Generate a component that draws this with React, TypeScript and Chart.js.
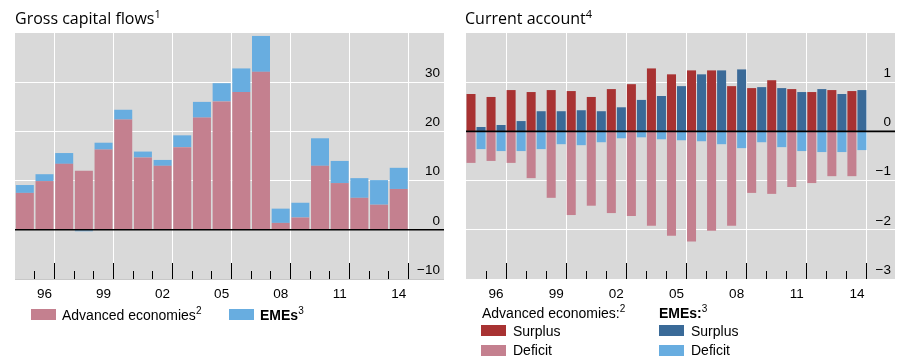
import React, { useEffect, useRef } from "react";
import { Chart, registerables } from "chart.js";

Chart.register(...registerables);

// ---------- data ----------
const YEARS = [1995, 1996, 1997, 1998, 1999, 2000, 2001, 2002, 2003, 2004, 2005, 2006, 2007, 2008, 2009, 2010, 2011, 2012, 2013, 2014];
const X_LABEL_YEARS = [1996, 1999, 2002, 2005, 2008, 2011, 2014];
const X_LABELS = ["96", "99", "02", "05", "08", "11", "14"];

// Gross capital flows (left panel)
const ADV_FLOWS = [7.5, 9.9, 13.4, 12.0, 16.3, 22.4, 14.7, 13.0, 16.8, 22.8, 26.1, 28.0, 32.1, 1.4, 2.5, 13.0, 9.5, 6.5, 5.1, 8.3];
const EME_FLOWS = [1.6, 1.4, 2.2, -0.3, 1.4, 2.0, 1.2, 1.2, 2.4, 3.2, 3.7, 4.8, 7.3, 2.9, 3.0, 5.6, 4.5, 4.0, 5.0, 4.3];
const FLOW_TICKS = [-10, 0, 10, 20, 30];

// Current account (right panel)
const ADV_SURPLUS = [0.76, 0.7, 0.84, 0.8, 0.84, 0.82, 0.7, 0.86, 0.96, 1.28, 1.16, 1.24, 1.24, 0.92, 0.88, 1.04, 0.86, 0.8, 0.84, 0.82];
const ADV_DEFICIT = [-0.64, -0.6, -0.64, -0.95, -1.35, -1.7, -1.51, -1.66, -1.72, -1.92, -2.12, -2.24, -2.02, -1.92, -1.25, -1.27, -1.13, -1.05, -0.91, -0.91];
const EME_SURPLUS = [0.09, 0.13, 0.21, 0.41, 0.41, 0.43, 0.41, 0.49, 0.64, 0.72, 0.92, 1.16, 1.24, 1.26, 0.9, 0.88, 0.8, 0.86, 0.76, 0.84];
const EME_DEFICIT = [-0.36, -0.4, -0.4, -0.36, -0.26, -0.28, -0.22, -0.14, -0.12, -0.16, -0.18, -0.2, -0.26, -0.34, -0.22, -0.32, -0.4, -0.42, -0.42, -0.38];
const CA_TICKS = [-3, -2, -1, 0, 1];

// ---------- styles ----------
const BG = "#d9d9d9";
const PINK = "#c4808f";
const LIGHT_BLUE = "#68ade0";
const DARK_RED = "#a83232";
const DARK_BLUE = "#3a6a98";
const TICK_FONT = { family: "'Liberation Sans', Arial, sans-serif", size: 13.5 };

const fmt = (v: number) => (v < 0 ? "\u2212" + Math.abs(v) : String(v));
const pts = (vals: number[]) => YEARS.map((x, i) => ({ x, y: vals[i] }));

const panelPlugin = {
  id: "panel",
  beforeDraw(chart: any) {
    const { ctx, chartArea: a } = chart;
    ctx.save();
    ctx.fillStyle = BG;
    ctx.fillRect(a.left, a.top, a.right - a.left, a.bottom - a.top);
    ctx.restore();
  },
  afterDatasetsDraw(chart: any) {
    const { ctx, chartArea: a, scales } = chart;
    ctx.save();
    // zero line
    const y0 = scales.y.getPixelForValue(0);
    ctx.strokeStyle = "#000";
    ctx.lineWidth = 1.6;
    ctx.beginPath();
    ctx.moveTo(a.left, y0);
    ctx.lineTo(a.right, y0);
    ctx.stroke();
    // year tick marks inside the bottom of the plot
    ctx.lineWidth = 1;
    ctx.beginPath();
    for (const yr of YEARS) {
      const px = Math.round(scales.x.getPixelForValue(yr + 0.5) - 0.5) + 0.5;
      const long = (yr - 1996) % 3 === 0;
      ctx.moveTo(px, a.bottom);
      ctx.lineTo(px, a.bottom - (long ? 16 : 8));
    }
    ctx.stroke();
    ctx.restore();
  },
};

function makeOptions(xMax: number, yMin: number, yMax: number, yTicks: number[], bottomGrid: string, barPct: number, pad: any) {
  return {
    responsive: false,
    animation: false as const,
    layout: { padding: pad },
    plugins: { legend: { display: false }, title: { display: false }, tooltip: { enabled: false } },
    datasets: { bar: { categoryPercentage: 1, barPercentage: barPct, borderWidth: 0 } },
    scales: {
      x: {
        type: "linear" as const,
        min: 1994.5,
        max: xMax,
        offset: false,
        afterBuildTicks: (scale: any) => {
          scale.ticks = [...YEARS, 2015].map((v) => ({ value: v }));
        },
        afterFit: (scale: any) => {
          scale.height = 26;
        },
        grid: {
          offset: true,
          drawTicks: false,
          lineWidth: 1,
          color: (c: any) => (c.tick && (c.tick.value - 1997) % 3 === 0 ? "#ffffff" : "rgba(0,0,0,0)"),
        },
        border: { display: false },
        ticks: {
          autoSkip: false,
          maxRotation: 0,
          padding: 7,
          color: "#000",
          font: TICK_FONT,
          callback: (v: number) => {
            const i = X_LABEL_YEARS.indexOf(v);
            return i >= 0 ? X_LABELS[i] : "";
          },
        },
      },
      y: {
        position: "right" as const,
        stacked: true,
        min: yMin,
        max: yMax,
        afterBuildTicks: (scale: any) => {
          scale.ticks = [...yTicks, yMax].map((v) => ({ value: v }));
        },
        afterFit: (scale: any) => {
          scale.width = 0;
        },
        grid: {
          drawTicks: false,
          lineWidth: 1,
          color: (c: any) => {
            if (!c.tick) return "rgba(0,0,0,0)";
            if (c.tick.value === yMax) return "rgba(0,0,0,0)";
            if (c.tick.value === yMin) return bottomGrid;
            return "#ffffff";
          },
        },
        border: { display: false },
        ticks: {
          mirror: true,
          padding: -4,
          labelOffset: -9,
          color: "#000",
          font: TICK_FONT,
          callback: (v: number) => (v === yMax ? "" : fmt(v)),
        },
      },
    },
  };
}

function ChartCanvas({ config, width, height, left }: { config: any; width: number; height: number; left: number }) {
  const ref = useRef<HTMLCanvasElement | null>(null);
  useEffect(() => {
    if (!ref.current) return;
    const chart = new Chart(ref.current, config);
    return () => chart.destroy();
  }, []);
  return <canvas ref={ref} width={width} height={height} style={{ position: "absolute", left, top: 0 }} />;
}

const leftConfig = {
  type: "bar",
  data: {
    datasets: [
      { label: "Advanced economies", data: pts(ADV_FLOWS), backgroundColor: PINK, stack: "a" },
      { label: "EMEs", data: pts(EME_FLOWS), backgroundColor: LIGHT_BLUE, stack: "a" },
    ],
  },
  options: makeOptions(2016.3, -10, 40, FLOW_TICKS, "#c8c8c8", 0.915, { left: 15, right: 9, top: 33, bottom: 0 }),
  plugins: [panelPlugin],
};

const rightConfig = {
  type: "bar",
  data: {
    datasets: [
      { label: "Advanced economies: Surplus", data: pts(ADV_SURPLUS), backgroundColor: DARK_RED, stack: "adv" },
      { label: "Advanced economies: Deficit", data: pts(ADV_DEFICIT), backgroundColor: PINK, stack: "adv" },
      { label: "EMEs: Surplus", data: pts(EME_SURPLUS), backgroundColor: DARK_BLUE, stack: "eme" },
      { label: "EMEs: Deficit", data: pts(EME_DEFICIT), backgroundColor: LIGHT_BLUE, stack: "eme" },
    ],
  },
  options: makeOptions(2015.9, -3, 2, CA_TICKS, "#ffffff", 0.9, { left: 11, right: 12, top: 33, bottom: 0 }),
  plugins: [panelPlugin],
};

const titleStyle: React.CSSProperties = {
  position: "absolute",
  top: 10,
  fontFamily: "'Open Sans', sans-serif",
  fontSize: 16,
  lineHeight: "16px",
  color: "#000",
  whiteSpace: "nowrap",
};
const legendText: React.CSSProperties = {
  position: "absolute",
  fontFamily: "'Liberation Sans', Arial, sans-serif",
  fontSize: 14,
  lineHeight: "14px",
  color: "#000",
  whiteSpace: "nowrap",
};
const supStyle: React.CSSProperties = { fontSize: 10, position: "relative", top: -6 };
const titleSup: React.CSSProperties = { fontSize: 11, position: "relative", top: -6 };

function Swatch({ x, y, color }: { x: number; y: number; color: string }) {
  return <div style={{ position: "absolute", left: x, top: y, width: 25, height: 11, background: color }} />;
}

export default function App() {
  return (
    <div style={{ position: "absolute", left: 0, top: 0, width: 907, height: 363, background: "#fff", overflow: "hidden" }}>
      <ChartCanvas config={leftConfig} width={453} height={305} left={0} />
      <ChartCanvas config={rightConfig} width={452} height={305} left={455} />

      <div style={{ ...titleStyle, left: 15 }}>
        Gross capital flows<span style={titleSup}>1</span>
      </div>
      <div style={{ ...titleStyle, left: 465 }}>
        Current account<span style={titleSup}>4</span>
      </div>

      {/* left legend */}
      <Swatch x={31} y={309} color={PINK} />
      <div style={{ ...legendText, left: 62, top: 308 }}>
        Advanced economies<span style={supStyle}>2</span>
      </div>
      <Swatch x={229} y={309} color={LIGHT_BLUE} />
      <div style={{ ...legendText, left: 260, top: 308 }}>
        <b>EMEs</b>
        <span style={supStyle}>3</span>
      </div>

      {/* right legend */}
      <div style={{ ...legendText, left: 482, top: 306 }}>
        Advanced economies:<span style={supStyle}>2</span>
      </div>
      <Swatch x={481} y={325} color={DARK_RED} />
      <div style={{ ...legendText, left: 513, top: 324 }}>Surplus</div>
      <Swatch x={481} y={345} color={PINK} />
      <div style={{ ...legendText, left: 513, top: 343 }}>Deficit</div>

      <div style={{ ...legendText, left: 659, top: 306 }}>
        <b>EMEs:</b>
        <span style={supStyle}>3</span>
      </div>
      <Swatch x={659} y={325} color={DARK_BLUE} />
      <div style={{ ...legendText, left: 691, top: 324 }}>Surplus</div>
      <Swatch x={659} y={345} color={LIGHT_BLUE} />
      <div style={{ ...legendText, left: 691, top: 343 }}>Deficit</div>
    </div>
  );
}
